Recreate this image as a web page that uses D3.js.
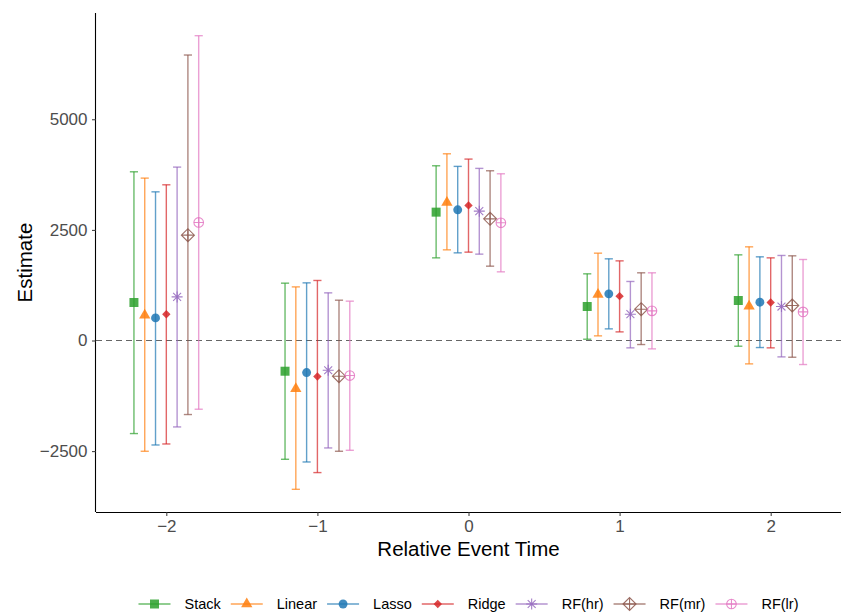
<!DOCTYPE html>
<html><head><meta charset="utf-8">
<script src="https://cdn.jsdelivr.net/npm/d3@7"></script>
<style>body{margin:0;background:#fff;font-family:"Liberation Sans",Arial,sans-serif}</style>
</head><body><svg id="c" width="842" height="614"></svg>
<script>
const times = [-2, -1, 0, 1, 2];
const series = ["Stack", "Linear", "Lasso", "Ridge", "RF(hr)", "RF(mr)", "RF(lr)"];
const colors = ["#2ca02c", "#ff7f0e", "#1f77b4", "#d62728", "#9467bd", "#8c564b", "#e377c2"];
const yTicks = [-2500, 0, 2500, 5000];
// rows follow series, columns follow times
const estimates = [
  [859, -694, 2901, 768, 904],
  [570, -1090, 3120, 1040, 775],
  [511, -724, 2954, 1054, 866],
  [595, -814, 3053, 1002, 859],
  [986, -672, 2924, 595, 768],
  [2381, -807, 2750, 708, 791],
  [2668, -792, 2660, 670, 647]
];
const lower = [
  [-2103, -2684, 1868, 29, -129],
  [-2503, -3363, 2049, 105, -528],
  [-2361, -2745, 1981, 263, -159],
  [-2338, -2985, 1997, 195, -166],
  [-1953, -2428, 1952, -166, -370],
  [-1673, -2503, 1680, -91, -378],
  [-1553, -2481, 1552, -189, -543]
];
const upper = [
  [3813, 1296, 3949, 1507, 1936],
  [3670, 1212, 4220, 1974, 2117],
  [3360, 1303, 3935, 1846, 1891],
  [3519, 1357, 4100, 1800, 1868],
  [3919, 1077, 3890, 1334, 1922],
  [6452, 911, 3836, 1530, 1914],
  [6889, 889, 3768, 1530, 1831]
];

const svg = d3.select("#c");
const L = 96, R = 841, T = 13, B = 512;
const dodge = 0.5 / series.length;
const capHalf = 0.027;
const rows = [];
series.forEach((s, i) => times.forEach((t, j) => rows.push({
  s, i, x: t + (i - (series.length - 1) / 2) * dodge,
  est: estimates[i][j], lo: lower[i][j], hi: upper[i][j]
})));
const xmin = d3.min(rows, d => d.x) - capHalf, xmax = d3.max(rows, d => d.x) + capHalf;
const xe = (xmax - xmin) * 0.05;
const x = d3.scaleLinear().domain([xmin - xe, xmax + xe]).range([L, R]);
const ymin = d3.min(rows, d => d.lo), ymax = d3.max(rows, d => d.hi);
const ye = (ymax - ymin) * 0.05;
const y = d3.scaleLinear().domain([ymin - ye, ymax + ye]).range([B, T]);

// zero reference line
svg.append("line").attr("x1", L).attr("x2", R).attr("y1", y(0)).attr("y2", y(0))
  .attr("stroke", "#666").attr("stroke-width", 1.1).attr("stroke-dasharray", "6,4");

const ALPHA = 0.7, PALPHA = 0.85;
function drawPoint(g, i, cx, cy, col) {
  const gg = g.append("g").attr("transform", `translate(${cx},${cy})`);
  if (i === 0) {
    gg.append("path").attr("d", d3.symbol(d3.symbolSquare, 81)()).attr("fill", col).attr("fill-opacity", PALPHA);
  } else if (i === 1) {
    gg.append("path").attr("d", d3.symbol(d3.symbolTriangle, 55)()).attr("fill", col).attr("fill-opacity", PALPHA);
  } else if (i === 2) {
    gg.append("path").attr("d", d3.symbol(d3.symbolCircle, 62)()).attr("fill", col).attr("fill-opacity", PALPHA);
  } else if (i === 3) {
    const r = 4.2;
    gg.append("path").attr("d", `M0,${-r}L${r},0L0,${r}L${-r},0Z`).attr("fill", col).attr("fill-opacity", PALPHA);
  } else if (i === 4) {
    const r = 5.5;
    const p = d3.path();
    p.moveTo(-r, 0); p.lineTo(r, 0);
    p.moveTo(0, -r); p.lineTo(0, r);
    const k = r * 0.72;
    p.moveTo(-k, -k); p.lineTo(k, k);
    p.moveTo(-k, k); p.lineTo(k, -k);
    gg.append("path").attr("d", p.toString()).attr("stroke", col).attr("stroke-width", 1.1).attr("fill", "none").attr("stroke-opacity", PALPHA);
  } else if (i === 5) {
    const r = 6.5;
    gg.append("path").attr("d", `M${-r},0L0,${-r}L${r},0L0,${r}ZM${-r},0L${r},0M0,${-r}L0,${r}`)
      .attr("stroke", col).attr("stroke-width", 1.1).attr("fill", "none").attr("stroke-opacity", PALPHA);
  } else {
    const r = 4.8;
    gg.append("circle").attr("r", r).attr("stroke", col).attr("stroke-width", 1.1).attr("fill", "none").attr("stroke-opacity", PALPHA);
    gg.append("path").attr("d", `M${-r},0L${r},0M0,${-r}L0,${r}`).attr("stroke", col).attr("stroke-width", 1.1).attr("stroke-opacity", PALPHA);
  }
}

const gBars = svg.append("g");
rows.forEach(d => {
  const col = colors[d.i];
  const g = gBars.append("g").attr("stroke", col).attr("stroke-opacity", ALPHA).attr("stroke-width", 1.4);
  g.append("line").attr("x1", x(d.x)).attr("x2", x(d.x)).attr("y1", y(d.lo)).attr("y2", y(d.hi));
  g.append("line").attr("x1", x(d.x - capHalf)).attr("x2", x(d.x + capHalf)).attr("y1", y(d.lo)).attr("y2", y(d.lo));
  g.append("line").attr("x1", x(d.x - capHalf)).attr("x2", x(d.x + capHalf)).attr("y1", y(d.hi)).attr("y2", y(d.hi));
});
const gPts = svg.append("g");
rows.forEach(d => drawPoint(gPts, d.i, x(d.x), y(d.est), colors[d.i]));

// axes
const fmt = d => d < 0 ? "\u2212" + Math.abs(d) : d;
const xAxis = svg.append("g").attr("transform", `translate(0,${B})`)
  .call(d3.axisBottom(x).tickValues(times).tickFormat(fmt).tickSizeOuter(0).tickSize(4).tickPadding(4));
const yAxis = svg.append("g").attr("transform", `translate(${L},0)`)
  .call(d3.axisLeft(y).tickValues(yTicks).tickFormat(fmt).tickSizeOuter(0).tickSize(4).tickPadding(4.5));
[xAxis, yAxis].forEach(a => {
  a.select(".domain").attr("stroke", "#000").attr("stroke-width", 1.1);
  a.selectAll(".tick line").attr("stroke", "#333");
  a.selectAll(".tick text").attr("fill", "#4d4d4d").style("font-size", "17px").style("font-family", "Liberation Sans, Arial, sans-serif");
});
xAxis.select(".domain").attr("d", `M${L},0.5H${R}`);
yAxis.select(".domain").attr("d", `M-0.5,${T}V${B}`);

svg.append("text").attr("x", (L + R) / 2).attr("y", 556).attr("text-anchor", "middle")
  .style("font-size", "20.5px").attr("fill", "#000").text("Relative Event Time");
svg.append("text").attr("transform", `translate(32,${(T + B) / 2}) rotate(-90)`).attr("text-anchor", "middle")
  .style("font-size", "20.5px").attr("fill", "#000").text("Estimate");

// legend
const leg = svg.append("g");
let cursor = 0;
const GAP = 10;
series.forEach((s, i) => {
  const g = leg.append("g");
  g.append("line").attr("x1", 0).attr("x2", 32).attr("y1", 0).attr("y2", 0)
    .attr("stroke", colors[i]).attr("stroke-opacity", ALPHA).attr("stroke-width", 1.4);
  drawPoint(g, i, 16, 0, colors[i]);
  const t = g.append("text").attr("x", 46).attr("y", 5).style("font-size", "14.5px").attr("fill", "#000").text(s);
  const w = 46 + t.node().getComputedTextLength();
  g.attr("transform", `translate(${cursor},0)`);
  cursor += w + GAP;
});
const total = cursor - GAP;
leg.attr("transform", `translate(${(L + R) / 2 - total / 2},604)`);
</script></body></html>
